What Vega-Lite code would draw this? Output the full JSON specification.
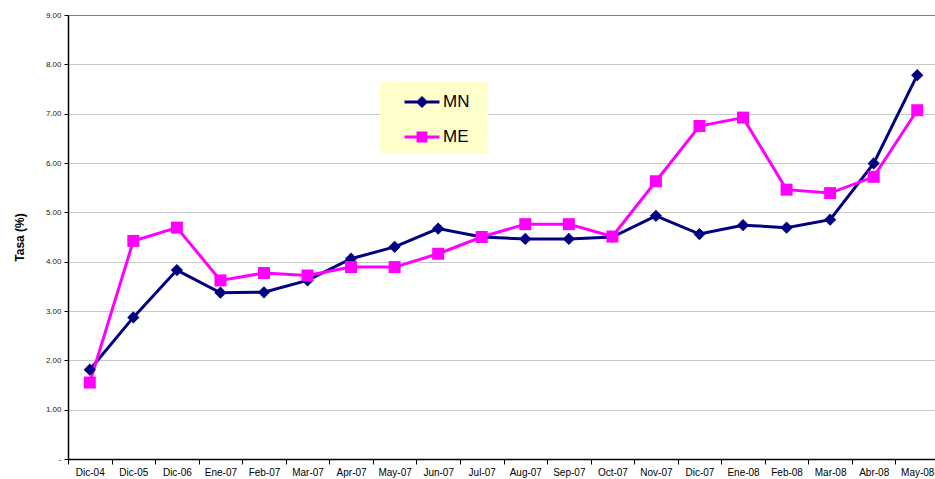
{
  "$schema": "https://vega.github.io/schema/vega-lite/v6.json",
  "width": 867,
  "height": 444,
  "autosize": {"type": "none"},
  "padding": {"left": 68, "top": 15, "right": 0, "bottom": 20},
  "background": "white",
  "config": {
    "view": {"stroke": null},
    "font": "Liberation Sans"
  },
  "data": {
    "values": [
      {"month": "Dic-04", "series": "MN", "value": 1.81},
      {"month": "Dic-05", "series": "MN", "value": 2.87},
      {"month": "Dic-06", "series": "MN", "value": 3.83},
      {"month": "Ene-07", "series": "MN", "value": 3.37},
      {"month": "Feb-07", "series": "MN", "value": 3.38},
      {"month": "Mar-07", "series": "MN", "value": 3.62},
      {"month": "Apr-07", "series": "MN", "value": 4.06},
      {"month": "May-07", "series": "MN", "value": 4.30},
      {"month": "Jun-07", "series": "MN", "value": 4.67},
      {"month": "Jul-07", "series": "MN", "value": 4.50},
      {"month": "Aug-07", "series": "MN", "value": 4.46},
      {"month": "Sep-07", "series": "MN", "value": 4.46},
      {"month": "Oct-07", "series": "MN", "value": 4.50},
      {"month": "Nov-07", "series": "MN", "value": 4.93},
      {"month": "Dic-07", "series": "MN", "value": 4.56},
      {"month": "Ene-08", "series": "MN", "value": 4.74},
      {"month": "Feb-08", "series": "MN", "value": 4.69},
      {"month": "Mar-08", "series": "MN", "value": 4.85},
      {"month": "Abr-08", "series": "MN", "value": 5.99},
      {"month": "May-08", "series": "MN", "value": 7.78},
      {"month": "Dic-04", "series": "ME", "value": 1.55},
      {"month": "Dic-05", "series": "ME", "value": 4.42},
      {"month": "Dic-06", "series": "ME", "value": 4.69},
      {"month": "Ene-07", "series": "ME", "value": 3.62},
      {"month": "Feb-07", "series": "ME", "value": 3.77},
      {"month": "Mar-07", "series": "ME", "value": 3.72},
      {"month": "Apr-07", "series": "ME", "value": 3.89},
      {"month": "May-07", "series": "ME", "value": 3.89},
      {"month": "Jun-07", "series": "ME", "value": 4.16},
      {"month": "Jul-07", "series": "ME", "value": 4.50},
      {"month": "Aug-07", "series": "ME", "value": 4.76},
      {"month": "Sep-07", "series": "ME", "value": 4.76},
      {"month": "Oct-07", "series": "ME", "value": 4.51},
      {"month": "Nov-07", "series": "ME", "value": 5.63},
      {"month": "Dic-07", "series": "ME", "value": 6.75},
      {"month": "Ene-08", "series": "ME", "value": 6.92},
      {"month": "Feb-08", "series": "ME", "value": 5.46},
      {"month": "Mar-08", "series": "ME", "value": 5.39},
      {"month": "Abr-08", "series": "ME", "value": 5.72},
      {"month": "May-08", "series": "ME", "value": 7.07}
    ]
  },
  "encoding": {
    "x": {
      "field": "month",
      "type": "ordinal",
      "sort": null,
      "scale": {"type": "band", "paddingInner": 0, "paddingOuter": 0, "range": [0, 871]},
      "axis": {
        "title": null,
        "labelAngle": 0,
        "labelFontSize": 10,
        "labelColor": "black",
        "tickBand": "extent",
        "tickSize": 5,
        "tickColor": "black",
        "domainColor": "black",
        "domainWidth": 1.5,
        "labelPadding": 3,
        "grid": false
      }
    },
    "y": {
      "field": "value",
      "type": "quantitative",
      "scale": {"domain": [0, 9], "nice": false},
      "axis": {
        "title": "Tasa (%)",
        "titleFontSize": 12,
        "titleFontWeight": "bold",
        "titleColor": "black",
        "titlePadding": 19,
        "values": [0, 1, 2, 3, 4, 5, 6, 7, 8, 9],
        "labelExpr": "datum.value == 0 ? '-' : format(datum.value, '.2f')",
        "labelFontSize": 8,
        "labelColor": "#222222",
        "labelPadding": 3,
        "tickSize": 4,
        "tickColor": "black",
        "domainColor": "black",
        "domainWidth": 1.5,
        "grid": true,
        "gridColor": {"condition": {"test": "datum.value == 9", "value": "#808080"}, "value": "#c8c8c8"},
        "gridWidth": 1
      }
    },
    "color": {
      "field": "series",
      "type": "nominal",
      "scale": {"domain": ["MN", "ME"], "range": ["#000080", "#ff00ff"]},
      "legend": null
    }
  },
  "layer": [
    {
      "mark": {"type": "line", "strokeWidth": 3},
      "encoding": {
        "color": {
          "field": "series",
          "type": "nominal",
          "scale": {"domain": ["MN", "ME"], "range": ["#000080", "#ff00ff"]},
          "legend": {
            "title": null,
            "orient": "none",
            "legendX": 312,
            "legendY": 67,
            "fillColor": "#ffffcc",
            "padding": 6,
            "rowPadding": 11,
            "symbolSize": 625,
            "labelFontSize": 17,
            "labelColor": "black",
            "labelOffset": 29,
            "labelExpr": "datum.label + '\u2800'",
            "encode": {
              "symbols": {
                "update": {
                  "shape": {"signal": "datum.value == 'MN' ? 'M0.36,0H3.16M1.76,-0.32L2.08,0L1.76,0.32L1.44,0Z' : 'M0.36,0H3.16M1.44,-0.32H2.08V0.32H1.44Z'"},
                  "fill": {"scale": "color", "field": "value"},
                  "stroke": {"scale": "color", "field": "value"},
                  "strokeWidth": {"value": 3},
                  "opacity": {"value": 1},
                  "fillOpacity": {"value": 1}
                }
              }
            }
          }
        }
      }
    },
    {
      "transform": [{"filter": "datum.series == 'MN'"}],
      "mark": {"type": "point", "filled": true, "opacity": 1, "shape": "diamond", "size": 150}
    },
    {
      "transform": [{"filter": "datum.series == 'ME'"}],
      "mark": {"type": "point", "filled": true, "opacity": 1, "shape": "square", "size": 144}
    }
  ]
}
